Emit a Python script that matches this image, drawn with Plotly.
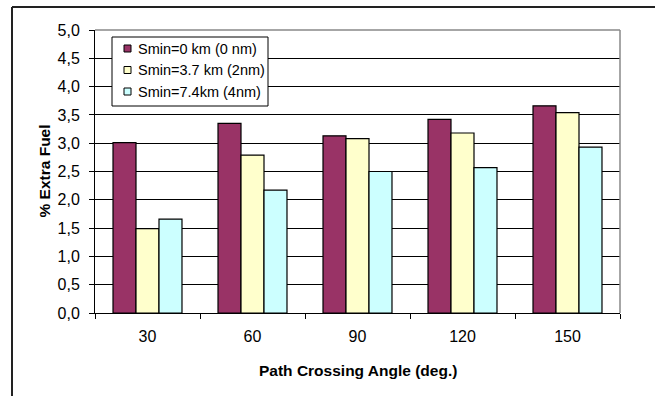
import plotly.graph_objects as go

# Data
angles = ["30", "60", "90", "120", "150"]
series_names = ["Smin=0 km (0 nm)", "Smin=3.7 km (2nm)", "Smin=7.4km (4nm)"]
smin_0km = [3.01, 3.35, 3.13, 3.42, 3.66]
smin_3_7km = [1.49, 2.79, 3.08, 3.18, 3.54]
smin_7_4km = [1.66, 2.17, 2.50, 2.57, 2.93]
series_values = [smin_0km, smin_3_7km, smin_7_4km]
colors = ["#993366", "#FFFFCC", "#CCFFFF"]

W, H = 655, 396
ML, MR, MT, MB = 95, 35, 30, 83
PW, PH = W - ML - MR, H - MT - MB
FONT = "Liberation Sans, Arial, sans-serif"


def px_x(px):
    return (px - ML) / PW


def px_y(py):
    return (H - MB - py) / PH


fig = go.Figure()
for name, vals, col in zip(series_names, series_values, colors):
    fig.add_trace(go.Bar(
        x=angles, y=vals, name=name,
        marker=dict(color=col, line=dict(color="black", width=1.2)),
        showlegend=False,
    ))

shapes = [
    # plot area border (top / right)
    dict(type="line", xref="paper", yref="paper", x0=0, x1=1, y0=1, y1=1,
         line=dict(color="#888888", width=1.5)),
    dict(type="line", xref="paper", yref="paper", x0=1, x1=1, y0=0, y1=1,
         line=dict(color="#888888", width=1.5)),
    # chart frame
    dict(type="line", xref="paper", yref="paper", x0=px_x(12), x1=px_x(W + 5),
         y0=px_y(7), y1=px_y(7), line=dict(color="#222222", width=2)),
    dict(type="line", xref="paper", yref="paper", x0=px_x(12), x1=px_x(12),
         y0=px_y(7), y1=px_y(H + 5), line=dict(color="#222222", width=2)),
    # legend box
    dict(type="rect", xref="paper", yref="paper", x0=px_x(112), x1=px_x(268),
         y0=px_y(106), y1=px_y(37), line=dict(color="black", width=1),
         fillcolor="white", layer="above"),
]

annotations = []
row_y = [48.5, 70, 91.5]
for name, col, ry in zip(series_names, colors, row_y):
    shapes.append(dict(type="rect", xref="paper", yref="paper",
                       x0=px_x(124), x1=px_x(131), y0=px_y(ry + 3.5), y1=px_y(ry - 3.5),
                       line=dict(color="black", width=1), fillcolor=col, layer="above"))
    annotations.append(dict(text=name, xref="paper", yref="paper", x=px_x(136),
                            y=px_y(ry), xanchor="left", yanchor="middle", showarrow=False,
                            font=dict(size=14.5, color="black", family=FONT)))

# axis titles
annotations.append(dict(text="<b>Path Crossing Angle (deg.)</b>", xref="paper", yref="paper",
                        x=0.5, y=px_y(370), xanchor="center", yanchor="middle",
                        showarrow=False, font=dict(size=15.5, color="black", family=FONT)))
annotations.append(dict(text="<b>% Extra Fuel</b>", xref="paper", yref="paper",
                        x=px_x(44), y=0.5, xanchor="center", yanchor="middle", textangle=-90,
                        showarrow=False, font=dict(size=15.5, color="black", family=FONT)))

fig.update_layout(
    width=W, height=H,
    margin=dict(l=ML, r=MR, t=MT, b=MB, autoexpand=False),
    paper_bgcolor="white", plot_bgcolor="white",
    barmode="group", bargap=0.343, bargroupgap=0,
    separators=", ",
    font=dict(family=FONT, size=16, color="black"),
    shapes=shapes, annotations=annotations,
    showlegend=False,
)
fig.update_xaxes(
    type="category", showline=True, linecolor="black", linewidth=1,
    ticks="outside", tickson="boundaries", ticklen=5, tickcolor="black",
    showgrid=False, ticklabelstandoff=9, tickfont=dict(size=16),
)
fig.update_yaxes(
    range=[0, 5], dtick=0.5, tickformat=".1f", showline=True, linecolor="black",
    linewidth=1, ticks="outside", ticklen=5, tickcolor="black", showgrid=True,
    gridcolor="black", gridwidth=1, zeroline=False, ticklabelstandoff=6,
    tickfont=dict(size=16),
)

fig.write_html("out.html")
